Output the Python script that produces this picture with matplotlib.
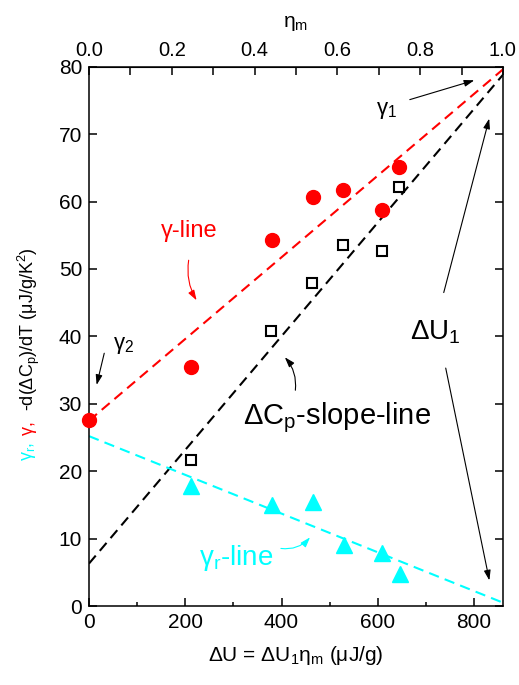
import matplotlib
matplotlib.use("Agg")
import matplotlib.pyplot as plt
from matplotlib.ticker import MultipleLocator, FixedLocator, FormatStrFormatter

plt.rcParams['font.family'] = ['Liberation Sans', 'DejaVu Sans']
plt.rcParams['mathtext.fontset'] = 'custom'
plt.rcParams['mathtext.rm'] = 'Liberation Sans'
plt.rcParams['mathtext.it'] = 'Liberation Sans'

# total latent heat, used for the top eta_m axis
dU1 = 860.0
eta_ticks = [0.0, 0.2, 0.4, 0.6, 0.8, 1.0]
eta_minor = [0.1, 0.3, 0.5, 0.7, 0.9]

# gamma (red circles)
g_x = [0, 211, 380, 466, 528, 608, 645]
g_y = [27.6, 35.5, 54.3, 60.7, 61.7, 58.8, 65.1]

# -d(dCp)/dT (open squares)
s_x = [212, 378, 464, 527, 608, 645]
s_y = [21.6, 40.8, 47.9, 53.5, 52.6, 62.1]

# gamma_r (cyan triangles)
t_x = [212, 380, 465, 530, 609, 646]
t_y = [17.8, 15.0, 15.5, 9.1, 7.9, 4.8]

# fitted lines (end points)
line_x = [0, 860]
g_line = [27.5, 79.6]
s_line = [6.3, 78.8]
t_line = [25.2, 0.5]

fig = plt.figure(figsize=(5.19, 6.85), dpi=100)
ax = fig.add_axes([0.1715, 0.1153, 0.7975, 0.7873])

dash = (0, (5, 3))
ax.plot(line_x, g_line, color='red', ls=dash, lw=1.5)
ax.plot(line_x, s_line, color='black', ls=dash, lw=1.5)
ax.plot(line_x, t_line, color='cyan', ls=dash, lw=1.5)

ax.plot(g_x, g_y, 'o', color='red', ms=10, clip_on=False, zorder=5)
ax.plot(s_x, s_y, 's', mfc='white', mec='black', mew=1.5, ms=7, zorder=5)
ax.plot(t_x, t_y, '^', color='cyan', ms=11, zorder=5)

ax.set_xlim(0, dU1)
ax.set_ylim(0, 80)
ax.xaxis.set_major_locator(MultipleLocator(200))
ax.xaxis.set_minor_locator(MultipleLocator(100))
ax.yaxis.set_major_locator(MultipleLocator(10))
ax.tick_params(which='both', direction='in', right=True, labelsize=15, width=1.1)
ax.tick_params(which='major', length=6, pad=5)
ax.tick_params(which='minor', length=3)
for sp in ax.spines.values():
    sp.set_linewidth(1.1)

ax.set_xlabel(r'ΔU = $\mathregular{ΔU_1η_m}$ (μJ/g)', fontsize=15, labelpad=9)

top = ax.secondary_xaxis('top', functions=(lambda x: x / dU1, lambda e: e * dU1))
top.xaxis.set_major_locator(FixedLocator(eta_ticks))
top.xaxis.set_minor_locator(FixedLocator(eta_minor))
top.xaxis.set_major_formatter(FormatStrFormatter('%.1f'))
top.tick_params(which='both', direction='in', labelsize=14.5, width=1.1, pad=5)
top.tick_params(which='major', length=6)
top.tick_params(which='minor', length=6)
top.set_xlabel(r'$\mathregular{η_m}$', fontsize=15, labelpad=10)

# multicolour y label
fig.text(0.055, 1 - 461 / 685, r'$\mathregular{γ_r}$, ', color='cyan', rotation=90,
         ha='center', va='bottom', fontsize=13)
fig.text(0.055, 1 - 435 / 685, 'γ, ', color='red', rotation=90,
         ha='center', va='bottom', fontsize=13)
fig.text(0.055, 1 - 411 / 685, r'-d($\mathregular{ΔC_p}$)/dT (μJ/g/$\mathregular{K^2}$)',
         color='black', rotation=90, ha='center', va='bottom', fontsize=13)

# annotations
arr = dict(arrowstyle='-|>,head_length=0.6,head_width=0.2', lw=0.8)

ax.text(208, 55.7, 'γ-line', color='red', fontsize=17, ha='center', va='center')
ax.annotate('', xy=(226.5, 45.0), xytext=(208, 51.7),
            arrowprops=dict(arr, color='red', connectionstyle='arc3,rad=0.2'))

ax.text(71, 38.7, r'$\mathregular{γ_2}$', fontsize=16, ha='center', va='center')
ax.annotate('', xy=(14.5, 32.4), xytext=(33, 37.9),
            arrowprops=dict(arr, color='black'))

ax.text(619, 73.5, r'$\mathregular{γ_1}$', fontsize=16, ha='center', va='center')
ax.annotate('', xy=(806, 78.1), xytext=(661, 75.0),
            arrowprops=dict(arr, color='black'))

ax.text(515, 27.9, r'$\mathregular{ΔC_p}$-slope-line', fontsize=21, ha='center', va='center')
ax.annotate('', xy=(403, 37.2), xytext=(428, 31.6),
            arrowprops=dict(arr, color='black', connectionstyle='arc3,rad=0.25'))

ax.text(719, 40.6, r'$\mathregular{ΔU_1}$', fontsize=20, ha='center', va='center')
ax.annotate('', xy=(833, 72.7), xytext=(735.6, 46.1),
            arrowprops=dict(arr, color='black'))
ax.annotate('', xy=(833, 3.4), xytext=(740, 35.7),
            arrowprops=dict(arr, color='black'))

ax.text(305, 7.1, r'$\mathregular{γ_r}$-line', color='cyan', fontsize=20, ha='center', va='center')
ax.annotate('', xy=(463, 10.5), xytext=(393, 8.6),
            arrowprops=dict(arr, color='cyan', connectionstyle='arc3,rad=0.3'))

fig.savefig('out.png', dpi=100)
